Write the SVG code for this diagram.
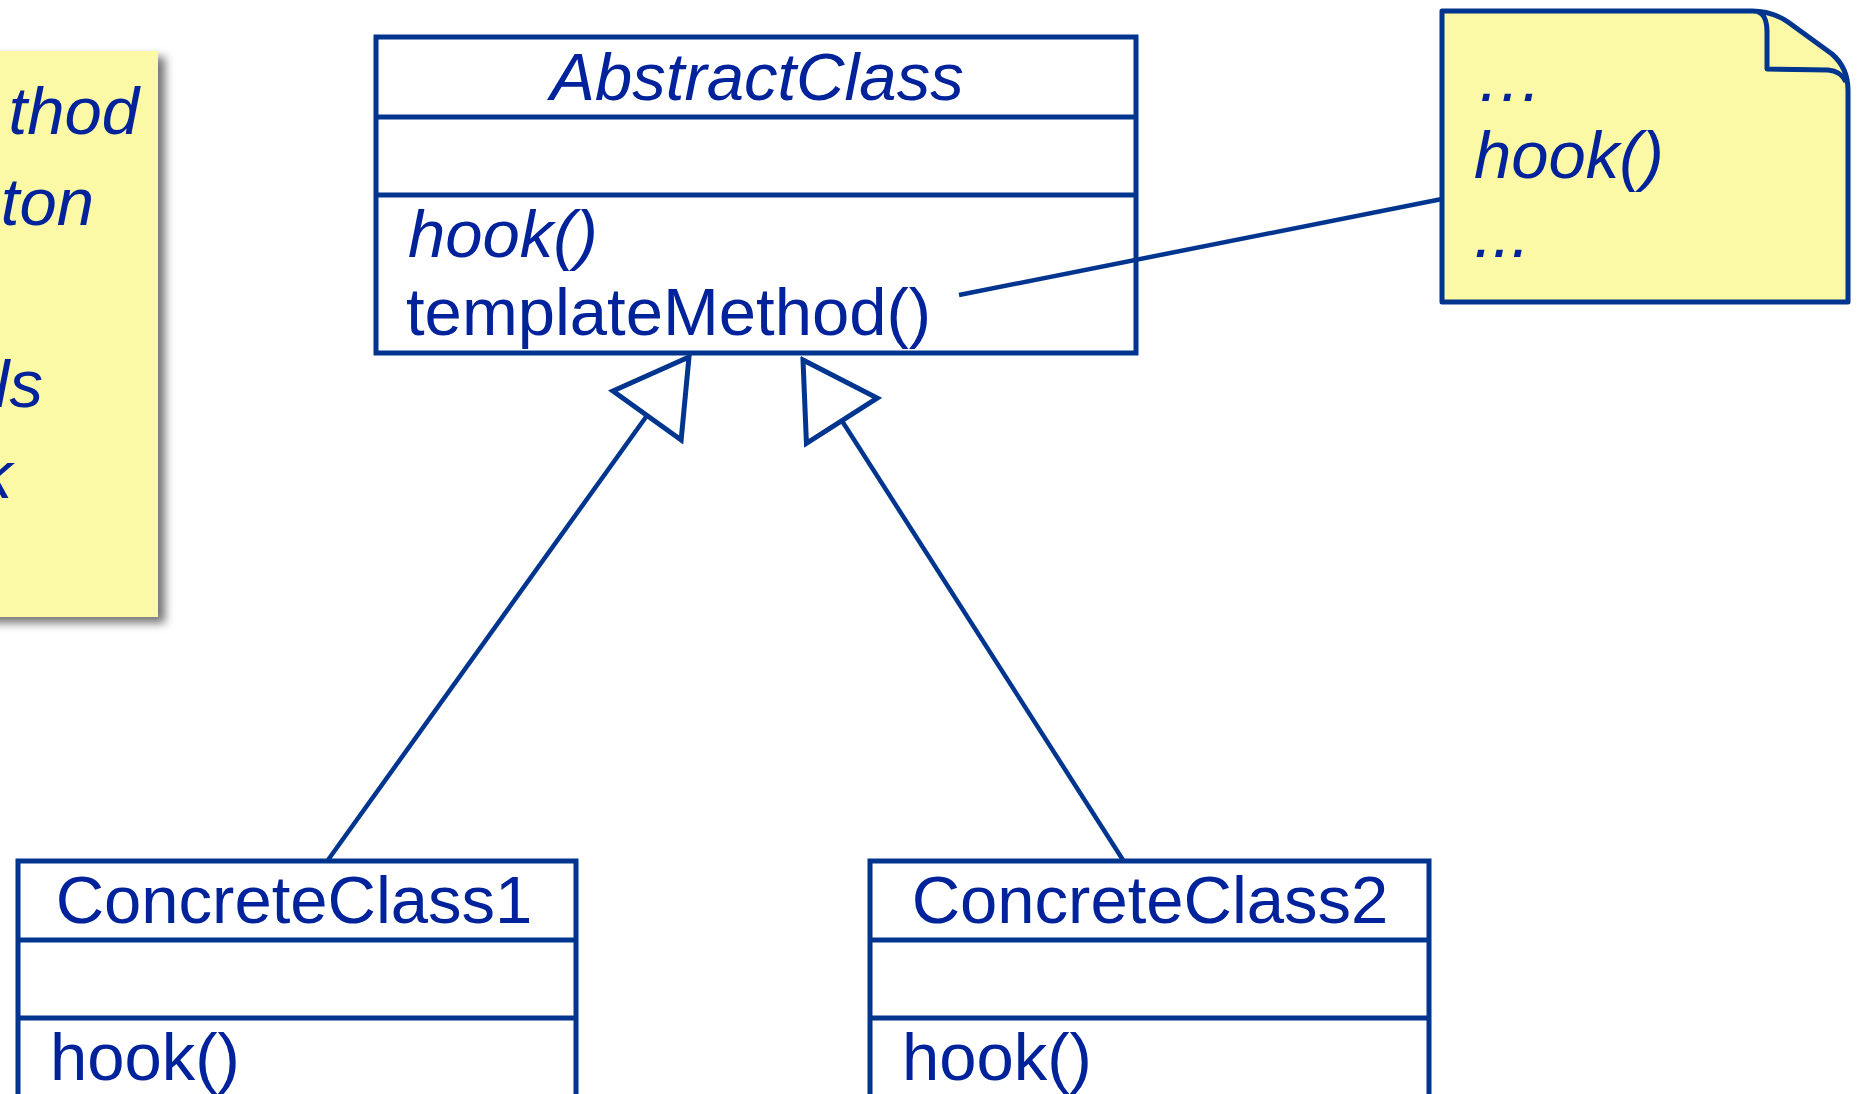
<svg xmlns="http://www.w3.org/2000/svg" width="1859" height="1094" viewBox="0 0 1859 1094">
<style>
.box{fill:#ffffff;stroke:#00358f;stroke-width:5}
.div{stroke:#00358f;stroke-width:5}
.t{font-family:"Liberation Sans",Arial,Helvetica,sans-serif;font-size:67px;fill:#00229a}
.i{font-style:italic}
.c{text-anchor:middle}
.e{text-anchor:end}
.con{stroke:#00358f;stroke-width:4.5;fill:none}
</style>
<defs>
<filter id="sh" x="-20%" y="-10%" width="140%" height="130%">
<feDropShadow dx="7" dy="6" stdDeviation="5" flood-color="#000" flood-opacity="0.55"/>
</filter>
<marker id="gen" markerUnits="userSpaceOnUse" viewBox="-4 -46 80 92" refX="72" refY="0" markerWidth="80" markerHeight="92" orient="auto">
<path d="M0,-42 L72,0 L0,42 Z" fill="#ffffff" stroke="#00358f" stroke-width="5" stroke-linejoin="miter"/>
</marker>
</defs>
<rect width="1859" height="1094" fill="#ffffff"/>

<g id="leftnote">
<rect x="-20" y="51" width="178" height="566" fill="#fcf9a6" filter="url(#sh)"/>
<text class="t i e" x="139" y="134">thod</text>
<text class="t i e" x="94" y="225">ton</text>
<text class="t i e" x="43" y="407">ls</text>
<text class="t i e" x="12" y="498">k</text>
</g>

<g id="AbstractClass">
<rect class="box" x="376" y="37" width="760" height="316"/>
<line class="div" x1="376" y1="117" x2="1136" y2="117"/>
<line class="div" x1="376" y1="195" x2="1136" y2="195"/>
<text class="t i c" x="757" y="100">AbstractClass</text>
<text class="t i" x="408" y="257">hook()</text>
<text class="t" x="406" y="335">templateMethod()</text>
</g>

<g id="ConcreteClass1">
<rect class="box" x="18" y="861" width="558" height="260"/>
<line class="div" x1="18" y1="940" x2="576" y2="940"/>
<line class="div" x1="18" y1="1018" x2="576" y2="1018"/>
<text class="t c" x="294" y="923">ConcreteClass1</text>
<text class="t" x="50" y="1080">hook()</text>
</g>

<g id="ConcreteClass2">
<rect class="box" x="870" y="861" width="559" height="260"/>
<line class="div" x1="870" y1="940" x2="1429" y2="940"/>
<line class="div" x1="870" y1="1018" x2="1429" y2="1018"/>
<text class="t c" x="1150" y="923">ConcreteClass2</text>
<text class="t" x="902" y="1080">hook()</text>
</g>

<g id="hooknote">
<path d="M1442,11 L1752,11 Q1772,11 1788,22 L1832,54 Q1848,68 1848,90 L1848,302 L1442,302 Z" fill="#fcf9a6" stroke="#00358f" stroke-width="5" stroke-linejoin="round"/>
<path d="M1758,12 Q1767,15 1767,32 L1767,69 L1828,70 Q1841,71 1846,82" fill="none" stroke="#00358f" stroke-width="5" stroke-linejoin="round"/>
<text class="t i" x="1476" y="101">…</text>
<text class="t i" x="1474" y="178">hook()</text>
<text class="t i" x="1474" y="257">...</text>
</g>

<g id="connectors">
<line class="con" x1="328" y1="860" x2="689" y2="357" marker-end="url(#gen)"/>
<line class="con" x1="1123" y1="860" x2="803" y2="360" marker-end="url(#gen)"/>
<line class="con" x1="959" y1="295" x2="1442" y2="199"/>
</g>
</svg>
